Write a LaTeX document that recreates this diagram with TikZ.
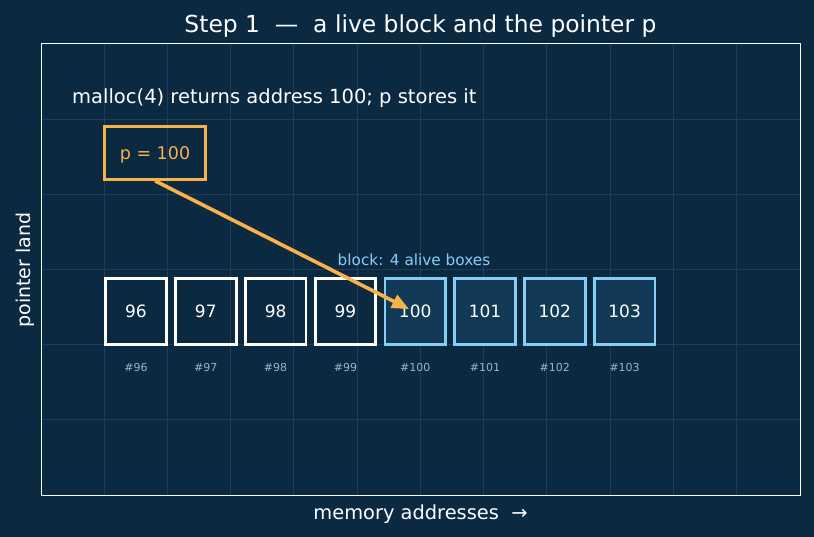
\documentclass[tikz,border=0pt]{standalone}
\usepackage{fontspec}
\setmainfont{DejaVu Sans}
\usetikzlibrary{arrows.meta}

\definecolor{bgnavy}{HTML}{0C2942}
\definecolor{gridline}{HTML}{1D3D5A}
\definecolor{ptrorange}{HTML}{F7B24C}
\definecolor{liveblue}{HTML}{86CEF5}
\definecolor{livefill}{HTML}{123A57}
\definecolor{addrgray}{HTML}{9FB3C6}

\tikzset{
  cell/.style={draw=white, line width=2.8pt, minimum width=60.6pt, minimum height=66pt,
    inner sep=0pt, text=white, font=\fontsize{17}{19}\selectfont},
  livecell/.style={cell, draw=liveblue, fill=livefill},
  addr/.style={anchor=base, text=addrgray, font=\fontsize{11}{13}\selectfont},
  ptrbox/.style={draw=ptrorange, line width=2.6pt, minimum width=101pt, minimum height=53pt,
    inner sep=0pt, text depth=0pt, text=ptrorange, font=\fontsize{17.5}{20}\selectfont},
  ptrarrow/.style={ptrorange, line width=3.6pt, -{Triangle[length=17pt,width=14pt]}}
}

\begin{document}
\begin{tikzpicture}[x=1pt,y=-1pt]
\fill[bgnavy] (0,0) rectangle (814,537);
\useasboundingbox (0,0) rectangle (814,537);
\foreach \gx in {0,...,10}
  \draw[gridline, line width=1pt] (104+63.25*\gx,43.5) -- (104+63.25*\gx,495.5);
\foreach \gy in {0,...,4}
  \draw[gridline, line width=1pt] (41.5,120+74.75*\gy) -- (800.5,120+74.75*\gy);
\draw[white, line width=1pt] (41.5,43.5) rectangle (800.5,495.5);

\node[anchor=base, text=white, font=\fontsize{23.4}{26}\selectfont] (title) at (420.5,32.3)
  {Step 1\ \ —\ \ a live block and the pointer p};
\node[anchor=base, text=white, font=\fontsize{19.4}{22}\selectfont] (xlab) at (420.5,519)
  {memory addresses\ \ →};
\node[rotate=90, text=white, font=\fontsize{19}{22}\selectfont] (ylab) at (25,270) {pointer land};

\node[anchor=base west, inner sep=0pt, text=white, font=\fontsize{19.5}{22}\selectfont] (note) at (72,104)
  {malloc(4) returns address 100; p stores it};
\node[ptrbox] (ptr) at (155,153) {p = 100};

\foreach \a in {96,...,99} {
  \node[cell] (c\a) at (136+69.8*\a-69.8*96,311.5) {\a};
  \node[addr] (l\a) at (136+69.8*\a-69.8*96,371.7) {\#\a};
}
\foreach \a in {100,...,103} {
  \node[livecell] (c\a) at (136+69.8*\a-69.8*96,311.5) {\a};
  \node[addr] (l\a) at (136+69.8*\a-69.8*96,371.7) {\#\a};
}
\node[anchor=base, text=liveblue, font=\fontsize{15.3}{18}\selectfont] (blocklab) at (414,266)
  {block: 4 alive boxes};

\coordinate (hit) at (409,309);
\draw[ptrarrow] (ptr.south) -- (hit);
\end{tikzpicture}
\end{document}
